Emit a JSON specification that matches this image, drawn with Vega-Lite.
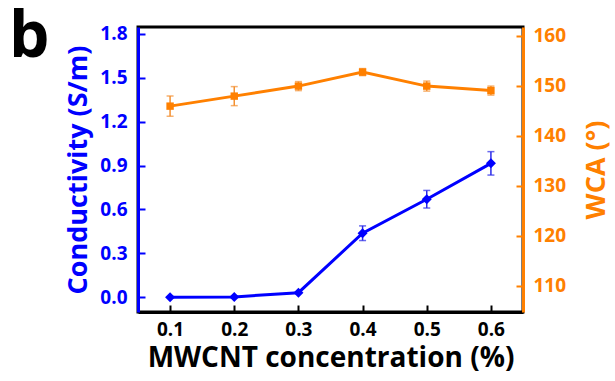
{
  "$schema": "https://vega.github.io/schema/vega-lite/v6.json",
  "width": 385,
  "height": 285,
  "autosize": {"type": "none"},
  "padding": {"left": 138, "top": 27, "right": 92, "bottom": 69},
  "background": "white",
  "title": {"text": "b", "anchor": "start", "frame": "group", "orient": "top", "dx": -129, "offset": -45, "baseline": "top", "fontSize": 64, "fontWeight": "bold", "font": "Open Sans", "color": "black"},
  "config": {
    "view": {"stroke": "black", "strokeWidth": 3},
    "axis": {"labelFont": "Open Sans", "titleFont": "Open Sans", "labelFontWeight": "bold", "titleFontWeight": "bold", "grid": false, "domainWidth": 3, "tickWidth": 2, "labelFontSize": 19, "titleFontSize": 27}
  },
  "data": {"values": [
    {"c": 0.1, "cond": 0.0, "cond_lo": 0.0, "cond_hi": 0.0, "wca": 145.9, "wca_lo": 143.9, "wca_hi": 147.9},
    {"c": 0.2, "cond": 0.003, "cond_lo": 0.003, "cond_hi": 0.003, "wca": 147.9, "wca_lo": 146.0, "wca_hi": 149.8},
    {"c": 0.3, "cond": 0.032, "cond_lo": 0.032, "cond_hi": 0.032, "wca": 149.9, "wca_lo": 149.0, "wca_hi": 150.8},
    {"c": 0.4, "cond": 0.438, "cond_lo": 0.388, "cond_hi": 0.488, "wca": 152.7, "wca_lo": 152.0, "wca_hi": 153.4},
    {"c": 0.5, "cond": 0.67, "cond_lo": 0.61, "cond_hi": 0.73, "wca": 149.9, "wca_lo": 148.9, "wca_hi": 150.9},
    {"c": 0.6, "cond": 0.915, "cond_lo": 0.835, "cond_hi": 0.995, "wca": 149.0, "wca_lo": 148.1, "wca_hi": 149.9}
  ]},
  "encoding": {
    "x": {"field": "c", "type": "quantitative",
      "scale": {"domain": [0.05, 0.65], "nice": false, "zero": false},
      "axis": {"values": [0.1, 0.2, 0.3, 0.4, 0.5, 0.6], "format": ".1f", "title": "MWCNT concentration (%)", "domainColor": "black", "tickColor": "black", "tickSize": -7, "labelPadding": 15, "titlePadding": 5, "labelColor": "black", "titleColor": "black", "titleFontSize": 28}}
  },
  "layer": [
    {
      "layer": [
        {"mark": {"type": "errorbar", "ticks": {"size": 7}, "thickness": 1.5, "color": "#2a2ae8"},
          "encoding": {"y": {"field": "cond_lo", "type": "quantitative", "scale": {"domain": [-0.1, 1.846], "nice": false, "zero": false}, "axis": {"title": "Conductivity (S/m)"}}, "y2": {"field": "cond_hi"}}},
        {"mark": {"type": "line", "color": "#0000ff", "strokeWidth": 3},
          "encoding": {"y": {"field": "cond", "type": "quantitative", "scale": {"domain": [-0.1, 1.846], "nice": false, "zero": false}, "axis": {"title": "Conductivity (S/m)", "orient": "left", "values": [0, 0.3, 0.6, 0.9, 1.2, 1.5, 1.8], "format": ".1f", "domainColor": "#0000ff", "tickColor": "#0000ff", "labelColor": "#0000ff", "titleColor": "#0000ff", "tickSize": -7, "labelPadding": 18, "titlePadding": 7}}}},
        {"mark": {"type": "point", "shape": "diamond", "filled": true, "size": 100, "color": "#0000ff", "opacity": 1},
          "encoding": {"y": {"field": "cond", "type": "quantitative", "scale": {"domain": [-0.1, 1.846], "nice": false, "zero": false}, "axis": {"title": "Conductivity (S/m)"}}}}
      ]
    },
    {
      "layer": [
        {"mark": {"type": "errorbar", "ticks": {"size": 7}, "thickness": 1.5, "color": "#f39030"},
          "encoding": {"y": {"field": "wca_lo", "type": "quantitative", "scale": {"domain": [104.8, 161.7], "nice": false, "zero": false}, "axis": {"title": "WCA (°)"}}, "y2": {"field": "wca_hi"}}},
        {"mark": {"type": "line", "color": "#ff8000", "strokeWidth": 3},
          "encoding": {"y": {"field": "wca", "type": "quantitative", "scale": {"domain": [104.8, 161.7], "nice": false, "zero": false}, "axis": {"title": "WCA (°)", "orient": "right", "values": [110, 120, 130, 140, 150, 160], "domainColor": "#ff8000", "tickColor": "#ff8000", "labelColor": "#ff8000", "titleColor": "#ff8000", "tickSize": -7, "labelPadding": 17, "titlePadding": 18, "titleAngle": 270, "titleBaseline": "top"}}}},
        {"mark": {"type": "point", "shape": "square", "filled": true, "size": 55, "color": "#ff8000", "opacity": 1},
          "encoding": {"y": {"field": "wca", "type": "quantitative", "scale": {"domain": [104.8, 161.7], "nice": false, "zero": false}, "axis": {"title": "WCA (°)"}}}}
      ]
    }
  ],
  "resolve": {"scale": {"y": "independent"}}
}
